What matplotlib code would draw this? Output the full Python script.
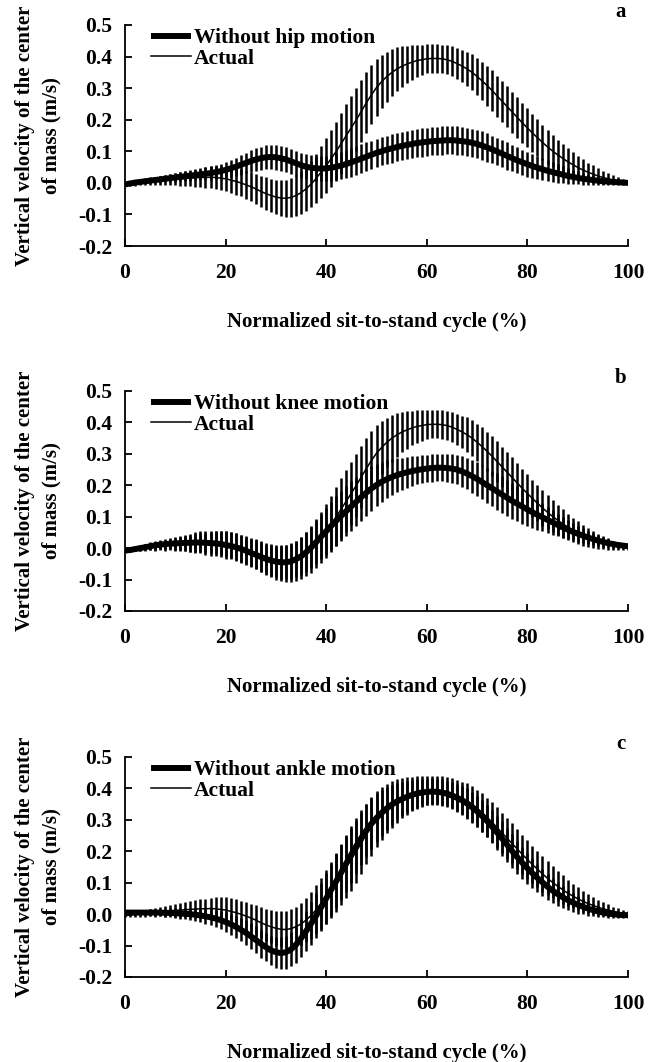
import numpy as np
import matplotlib
matplotlib.use("Agg")
import matplotlib.pyplot as plt

plt.rcParams['font.family'] = ['Liberation Serif', 'DejaVu Serif']
plt.rcParams['font.weight'] = 'bold'
plt.rcParams['axes.unicode_minus'] = False

cycle = list(range(0, 101))

actual_mean = [
    -0.005, -0.003, -0.001, 0.001, 0.003, 0.005, 0.006, 0.008, 0.009, 0.011,
    0.012, 0.013, 0.014, 0.015, 0.016, 0.017, 0.017, 0.018, 0.017, 0.015,
    0.013, 0.009, 0.005, 0.000, -0.006, -0.012, -0.019, -0.027, -0.034, -0.040,
    -0.045, -0.048, -0.049, -0.046, -0.040, -0.031, -0.019, -0.004, 0.014, 0.034,
    0.055, 0.077, 0.100, 0.125, 0.150, 0.175, 0.200, 0.227, 0.254, 0.279,
    0.302, 0.320, 0.336, 0.349, 0.360, 0.369, 0.376, 0.382, 0.387, 0.390,
    0.393, 0.394, 0.394, 0.393, 0.390, 0.385, 0.378, 0.370, 0.361, 0.350,
    0.337, 0.323, 0.308, 0.292, 0.275, 0.258, 0.241, 0.224, 0.207, 0.190,
    0.174, 0.158, 0.143, 0.128, 0.114, 0.101, 0.089, 0.078, 0.067, 0.058,
    0.049, 0.041, 0.034, 0.028, 0.022, 0.017, 0.013, 0.009, 0.006, 0.003,
    0.001]

actual_sd = [
    0.004, 0.006, 0.008, 0.009, 0.011, 0.012, 0.014, 0.015, 0.017, 0.018,
    0.020, 0.022, 0.024, 0.026, 0.028, 0.030, 0.032, 0.034, 0.036, 0.038,
    0.040, 0.041, 0.042, 0.043, 0.044, 0.045, 0.047, 0.049, 0.051, 0.053,
    0.055, 0.057, 0.059, 0.061, 0.064, 0.067, 0.070, 0.074, 0.078, 0.082,
    0.086, 0.090, 0.094, 0.097, 0.099, 0.100, 0.100, 0.099, 0.096, 0.093,
    0.089, 0.084, 0.079, 0.074, 0.069, 0.064, 0.059, 0.055, 0.051, 0.048,
    0.046, 0.045, 0.045, 0.045, 0.046, 0.048, 0.050, 0.052, 0.055, 0.057,
    0.059, 0.061, 0.063, 0.064, 0.065, 0.065, 0.065, 0.065, 0.064, 0.063,
    0.062, 0.060, 0.058, 0.056, 0.054, 0.051, 0.048, 0.045, 0.042, 0.039,
    0.036, 0.033, 0.030, 0.027, 0.024, 0.021, 0.018, 0.015, 0.012, 0.010,
    0.008]

no_hip_mean = [
    -0.005, -0.002, 0.001, 0.003, 0.005, 0.007, 0.009, 0.011, 0.013, 0.015,
    0.017, 0.019, 0.021, 0.023, 0.025, 0.027, 0.029, 0.031, 0.034, 0.037,
    0.041, 0.046, 0.051, 0.057, 0.063, 0.069, 0.074, 0.078, 0.081, 0.082,
    0.081, 0.078, 0.074, 0.068, 0.062, 0.056, 0.051, 0.048, 0.046, 0.045,
    0.046, 0.048, 0.051, 0.055, 0.060, 0.065, 0.071, 0.077, 0.083, 0.089,
    0.095, 0.100, 0.105, 0.109, 0.113, 0.117, 0.120, 0.123, 0.126, 0.128,
    0.130, 0.132, 0.133, 0.134, 0.135, 0.135, 0.134, 0.132, 0.130, 0.127,
    0.123, 0.118, 0.112, 0.106, 0.099, 0.092, 0.085, 0.078, 0.071, 0.065,
    0.059, 0.053, 0.048, 0.043, 0.038, 0.034, 0.030, 0.026, 0.022, 0.019,
    0.016, 0.013, 0.011, 0.009, 0.007, 0.005, 0.004, 0.003, 0.002, 0.001,
    0.000]

no_hip_sd = [
    0.003, 0.004, 0.005, 0.006, 0.007, 0.008, 0.009, 0.010, 0.011, 0.012,
    0.013, 0.014, 0.015, 0.016, 0.017, 0.018, 0.020, 0.021, 0.022, 0.024,
    0.025, 0.027, 0.029, 0.031, 0.033, 0.035, 0.036, 0.037, 0.038, 0.039,
    0.040, 0.040, 0.040, 0.040, 0.040, 0.040, 0.040, 0.040, 0.040, 0.040,
    0.040, 0.041, 0.042, 0.043, 0.044, 0.045, 0.045, 0.045, 0.045, 0.045,
    0.045, 0.045, 0.045, 0.045, 0.045, 0.045, 0.045, 0.045, 0.045, 0.045,
    0.045, 0.045, 0.045, 0.045, 0.045, 0.045, 0.045, 0.045, 0.045, 0.045,
    0.045, 0.045, 0.045, 0.044, 0.044, 0.043, 0.043, 0.042, 0.041, 0.040,
    0.039, 0.038, 0.036, 0.035, 0.033, 0.031, 0.029, 0.027, 0.025, 0.023,
    0.021, 0.019, 0.017, 0.015, 0.013, 0.011, 0.010, 0.008, 0.007, 0.006,
    0.005]

no_knee_mean = [
    -0.008, -0.006, -0.003, 0.000, 0.003, 0.006, 0.009, 0.011, 0.013, 0.014,
    0.015, 0.016, 0.017, 0.017, 0.018, 0.018, 0.017, 0.016, 0.015, 0.013,
    0.010, 0.007, 0.003, -0.002, -0.008, -0.015, -0.021, -0.028, -0.034, -0.039,
    -0.043, -0.045, -0.045, -0.042, -0.035, -0.026, -0.013, 0.002, 0.019, 0.037,
    0.054, 0.071, 0.087, 0.103, 0.118, 0.133, 0.148, 0.163, 0.177, 0.190,
    0.201, 0.211, 0.219, 0.226, 0.232, 0.237, 0.241, 0.245, 0.248, 0.251,
    0.253, 0.255, 0.256, 0.256, 0.255, 0.253, 0.250, 0.244, 0.237, 0.229,
    0.220, 0.210, 0.200, 0.190, 0.180, 0.170, 0.160, 0.150, 0.141, 0.132,
    0.123, 0.114, 0.106, 0.098, 0.090, 0.082, 0.074, 0.066, 0.059, 0.052,
    0.046, 0.040, 0.034, 0.029, 0.024, 0.020, 0.016, 0.013, 0.010, 0.008,
    0.006]

no_knee_sd = [
    0.004, 0.006, 0.007, 0.009, 0.010, 0.012, 0.014, 0.015, 0.017, 0.018,
    0.020, 0.023, 0.026, 0.029, 0.032, 0.035, 0.038, 0.040, 0.041, 0.042,
    0.043, 0.043, 0.044, 0.044, 0.045, 0.045, 0.046, 0.047, 0.048, 0.049,
    0.050, 0.052, 0.054, 0.056, 0.058, 0.060, 0.063, 0.066, 0.069, 0.072,
    0.075, 0.077, 0.079, 0.080, 0.080, 0.080, 0.079, 0.078, 0.075, 0.072,
    0.068, 0.064, 0.060, 0.057, 0.054, 0.051, 0.049, 0.047, 0.045, 0.044,
    0.044, 0.043, 0.043, 0.043, 0.044, 0.045, 0.046, 0.048, 0.050, 0.052,
    0.054, 0.055, 0.056, 0.057, 0.058, 0.058, 0.058, 0.057, 0.056, 0.054,
    0.052, 0.050, 0.048, 0.045, 0.042, 0.039, 0.036, 0.033, 0.030, 0.027,
    0.025, 0.023, 0.021, 0.019, 0.017, 0.015, 0.013, 0.011, 0.009, 0.007,
    0.006]

no_ankle_mean = [
    0.005, 0.005, 0.005, 0.005, 0.005, 0.005, 0.005, 0.005, 0.004, 0.004,
    0.003, 0.002, 0.001, 0.000, -0.002, -0.004, -0.007, -0.010, -0.014, -0.019,
    -0.025, -0.032, -0.040, -0.049, -0.059, -0.070, -0.082, -0.094, -0.105, -0.115,
    -0.121, -0.124, -0.121, -0.112, -0.097, -0.077, -0.054, -0.030, -0.005, 0.022,
    0.050, 0.078, 0.105, 0.133, 0.162, 0.190, 0.217, 0.243, 0.267, 0.288,
    0.306, 0.322, 0.336, 0.348, 0.358, 0.366, 0.373, 0.379, 0.384, 0.387,
    0.389, 0.390, 0.389, 0.387, 0.383, 0.377, 0.370, 0.362, 0.352, 0.340,
    0.327, 0.312, 0.296, 0.278, 0.259, 0.240, 0.220, 0.200, 0.181, 0.163,
    0.146, 0.130, 0.115, 0.101, 0.087, 0.075, 0.064, 0.054, 0.045, 0.037,
    0.030, 0.024, 0.018, 0.013, 0.009, 0.005, 0.002, 0.000, -0.002, -0.003,
    -0.003]

no_ankle_sd = [
    0.005, 0.006, 0.007, 0.008, 0.009, 0.010, 0.011, 0.012, 0.013, 0.014,
    0.015, 0.016, 0.017, 0.019, 0.020, 0.021, 0.023, 0.025, 0.027, 0.029,
    0.031, 0.033, 0.035, 0.037, 0.039, 0.041, 0.043, 0.044, 0.045, 0.047,
    0.049, 0.050, 0.052, 0.054, 0.057, 0.060, 0.064, 0.068, 0.072, 0.076,
    0.080, 0.083, 0.086, 0.088, 0.090, 0.090, 0.090, 0.088, 0.085, 0.082,
    0.078, 0.073, 0.068, 0.063, 0.058, 0.055, 0.051, 0.048, 0.045, 0.043,
    0.042, 0.042, 0.042, 0.042, 0.042, 0.042, 0.044, 0.046, 0.048, 0.049,
    0.050, 0.051, 0.052, 0.053, 0.054, 0.055, 0.055, 0.054, 0.053, 0.052,
    0.050, 0.048, 0.046, 0.044, 0.042, 0.040, 0.037, 0.035, 0.032, 0.030,
    0.028, 0.025, 0.023, 0.020, 0.018, 0.015, 0.013, 0.011, 0.010, 0.009,
    0.008]

panel_letters = ['a', 'b', 'c']
model_labels = ['Without hip motion', 'Without knee motion', 'Without ankle motion']
model_means = [no_hip_mean, no_knee_mean, no_ankle_mean]
model_sds = [no_hip_sd, no_knee_sd, no_ankle_sd]
actual_label = 'Actual'
xticks = [0, 20, 40, 60, 80, 100]
yticks = [-0.2, -0.1, 0.0, 0.1, 0.2, 0.3, 0.4, 0.5]
ytick_labels = ['-0.2', '-0.1', '0.0', '0.1', '0.2', '0.3', '0.4', '0.5']
xlabel = 'Normalized sit-to-stand cycle (%)'
ylabel = 'Vertical velocity of the center\nof mass (m/s)'

W, H = 658, 1062
fig = plt.figure(figsize=(W / 100, H / 100), dpi=100)

# axes pixel boxes: (left, top, right, bottom)
boxes = [(125, 25, 628, 246), (125, 391, 628, 611), (125, 757, 628, 977)]

FS_TICK = 15.5
FS_LAB = 15
FS_LEG = 15.5
for i, (l, t, r, b) in enumerate(boxes):
    ax = fig.add_axes([l / W, 1 - b / H, (r - l) / W, (b - t) / H])
    x = np.array(cycle)
    ax.errorbar(x, actual_mean, yerr=actual_sd, fmt='none', ecolor='black',
                elinewidth=1.8, capsize=0, zorder=2)
    ax.errorbar(x, model_means[i], yerr=model_sds[i], fmt='none', ecolor='black',
                elinewidth=1.8, capsize=0, zorder=2)
    ax.plot(x, model_means[i], color='black', lw=4.3, solid_capstyle='butt',
            label=model_labels[i], zorder=3)
    ax.plot(x, actual_mean, color='black', lw=1.1, label=actual_label, zorder=4)

    ax.set_xlim(0, 100)
    ax.set_ylim(-0.2, 0.5)
    ax.set_xticks(xticks)
    ax.set_yticks(yticks)
    ax.set_yticklabels(ytick_labels)
    for s in ['top', 'right']:
        ax.spines[s].set_visible(False)
    for s in ['left', 'bottom']:
        ax.spines[s].set_linewidth(1.3)
    ax.tick_params(axis='both', direction='in', length=5, width=1.3,
                   labelsize=FS_TICK)
    ax.tick_params(axis='x', pad=12)
    ax.tick_params(axis='y', pad=9)
    for lab in ax.get_xticklabels() + ax.get_yticklabels():
        lab.set_fontweight('bold')
    ax.set_xlabel(xlabel, fontsize=FS_LAB, fontweight='bold', labelpad=21)
    ax.set_ylabel(ylabel, fontsize=FS_LAB, fontweight='bold', labelpad=12,
                  linespacing=1.45)
    ax.patch.set_visible(False)

    leg = ax.legend(loc='upper left', bbox_to_anchor=(0.052, 0.985), frameon=False,
                    handlelength=1.85, handletextpad=0.15,
                    labelspacing=0.02, borderpad=0, borderaxespad=0,
                    prop={'weight': 'bold', 'size': FS_LEG})
    ax.text(0.985, 1 + 8 / (b - t), panel_letters[i], transform=ax.transAxes,
            ha='center', va='baseline', fontsize=FS_LAB, fontweight='bold')

fig.savefig('out.png', dpi=100)
